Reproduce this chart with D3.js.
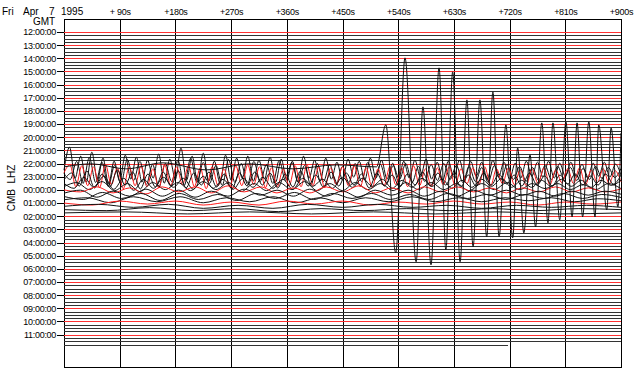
<!DOCTYPE html>
<html>
<head>
<meta charset="utf-8">
<script src="https://cdn.jsdelivr.net/npm/d3@7"></script>
<style>
  body { margin: 0; background: #fff; }
  svg { display: block; font-family: "Liberation Sans", Arial, sans-serif; }
</style>
</head>
<body>
<svg id="chart" width="640" height="371"></svg>
<script>
// hour labels down the left side, one per 4 rows (15 min rows)
const hourLabels = ["12:00:00", "13:00:00", "14:00:00", "15:00:00", "16:00:00", "17:00:00",
  "18:00:00", "19:00:00", "20:00:00", "21:00:00", "22:00:00", "23:00:00",
  "00:00:00", "01:00:00", "02:00:00", "03:00:00", "04:00:00", "05:00:00",
  "06:00:00", "07:00:00", "08:00:00", "09:00:00", "10:00:00", "11:00:00"];
const offsets = [90, 180, 270, 360, 450, 540, 630, 720, 810, 900];
const offsetLabels = ["+ 90s", "+180s", "+270s", "+360s", "+450s", "+540s", "+630s", "+720s", "+810s", "+900s"];
const rowCount = 96;
const rowSeconds = 900;
const lastRowEnd = 717;   // the 11:45 row stops early

// 22:15 row: the big surface waves, [seconds, amplitude]
const w2215 = [[0, 0], [45, 3], [100, -2], [160, 4], [230, -3], [300, 3], [370, -2], [440, 2], [505, 0],
  [520, 42], [536, -86], [551, 109], [569, -95], [580, 60], [593, -98], [606, 99], [617, -83],
  [628, 95], [640, -95], [651, 67], [661, -80], [672, 67], [683, -70], [693, 75], [703, -70],
  [714, 42], [725, -71], [733, 19], [743, -66], [753, 12], [762, -60], [772, 44], [782, -56],
  [790, 44], [801, -53], [811, 45], [821, -50], [829, 44], [838, -50], [848, 45], [858, -50],
  [864, 42], [877, -43], [884, 39], [895, -40], [900, 34]];

// other active rows, amplitudes spread evenly over the row
const w2230 = [0, 23, -8, 14, -12, 18, -10, 12, -14, 9, -11, 15, -9, 13, -12, 10, -8, 16, -13, 11, -9, 22, -10, 14, -12, 17,
  -11, 9, -13, 15, -10, 12, -8, 14, -11, 10, -9, 13, -12, 11, -10, 9, -12, 14, -8, 10, -11, 12, -9, 8, -10, 11, -7, 9, -10,
  12, -8, 10, -9, 7, -11, 9, -8, 10, -7, 11, -9, 8, -10, 9, -7, 10, -8, 9, -6, 8, -9, 10, -7, 8, -9, 7, -8, 9, -6, 8, -7, 9,
  -8, 7, -6, 8, -7, 6, -8, 7, -6, 8, -7, 6, -5];
const w2245 = [0, -6, 12, -10, 16, -9, 11, -13, 8, -10, 14, -7, 12, -11, 9, -14, 10, -8, 13, -12, 15, -9, 11, -10, 8, -12,
  14, -9, 10, -11, 12, -8, 9, -10, 13, -7, 11, -9, 8, -12, 10, -8, 9, -11, 7, -9, 10, -8, 11, -7, 9, -10, 8, -6, 10, -9, 7,
  -8, 9, -7, 10, -6, 8, -9, 7, -8, 6, -9, 8, -7, 9, -6, 7, -8, 6, -7, 8, -6, 7, -5, 6, -7, 5, -6, 7, -5, 6, -4, 5];
const w2300 = [4, 12, -10, 11, -9, 10, -11, 12, -8, 9, -12, 10, -9, 11, -10, 8, -11, 12, -9, 10, -8, 11, -10, 9, -12, 10,
  -9, 8, -10, 11, -9, 12, -8, 10, -11, 9, -10, 8, -9, 11, -10, 12, -9, 10, -11, 9, -8, 10, -9, 11, -10, 9, -11, 8, -9, 10,
  -8, 9, -10, 11, -9, 8, -10, 9, -8, 10, -9, 8, -7, 9, -8, 10, -9, 8, -7, 9, -8, 7, -9, 8, -7, 9, -8, 7, -6, 8, -7, 9, -8,
  7, -6, 8, -7, 6, -5];
const w2315 = [0, 7, -6, 9, -8, 6, -7, 10, -5, 8, -9, 6, -7, 8, -6, 9, -8, 7, -5, 8, -7, 6, -9, 7, -6, 8, -5, 7, -8, 6, -7,
  9, -6, 5, -7, 8, -6, 7, -5, 6, -8, 7, -6, 5, -7, 6, -5, 8, -6, 7, -5, 6, -7, 5, -6, 7, -5, 6, -4, 5, -6, 7, -5, 4, -6, 5,
  -4, 6, -5, 4, -5, 6, -4, 5];
const w2330 = [0, -5, 6, -4, 7, -6, 5, -7, 4, -5, 6, -4, 5, -6, 7, -5, 4, -6, 5, -4, 6, -5, 4, -6, 5, -3, 4, -5, 6, -4, 5,
  -3, 4, -5, 3, -4, 5, -3, 4, -5, 3, -4, 4, -3, 5, -4, 3, -4, 3, -3, 4, -3, 3, -4, 3, -2, 3];
const w2345 = [0, 4, -3, 5, -4, 3, -5, 4, -3, 4, -4, 5, -3, 4, -5, 3, -4, 4, -3, 5, -4, 3, -4, 4, -3, 3, -4, 4, -3, 4, -3,
  3, -4, 3, -3, 4, -3, 3, -2, 3, -3, 2, -3, 3, -2];
const w0000 = [0, -2, 3, -3, 2, -4, 3, -2, 3, -3, 4, -2, 3, -3, 2, -3, 3, -2, 4, -3, 2, -3, 3, -2, 3, -2, 2, -3, 2, -2, 3,
  -2, 2, -2, 1];
const w0015 = [0, 3, -4, 2, -3, 4, -3, 3, -4, 2, -3, 4, -2, 3, -3, 4, -3, 2, -4, 3, -2, 3, -3, 2, -3, 3, -2, 3, -2, 2, -3,
  2, -2, 2, -1];
const w0030 = [0, -3, 4, -2, 3, -4, 3, -3, 2, -4, 3, -2, 4, -3, 3, -2, 3, -3, 2, -3, 3, -2, 2, -3, 2, -2, 3, -2, 2, -1];
const w0045 = [0, 2, -3, 3, -2, 3, -3, 2, -2, 3, -3, 2, -3, 2, -2, 3, -2, 2, -2, 2, -1, 2, -2, 1, -1];
const w0100 = [0, -2, 2, -1, 2, -2, 1, -2, 2, -1, 2, -2, 1, -1, 2, -1, 1, -2, 1, -1, 1];
const w0115 = [0, 2, -1, 2, -2, 1, -2, 2, -1, 2, -1, 1, -2, 1, -1, 1, -1];
const w0130 = [0, -1, 2, -1, 1, -2, 1, -1, 1, -1, 1, -1, 1, 0];
const w0145 = [0, 1, -1, 1, -1, 1, -1, 1, -1, 0];

const activeRows = [
  { row: 42, values: w2230 }, { row: 43, values: w2245 }, { row: 44, values: w2300 },
  { row: 45, values: w2315 }, { row: 46, values: w2330 }, { row: 47, values: w2345 },
  { row: 48, values: w0000 }, { row: 49, values: w0015 }, { row: 50, values: w0030 },
  { row: 51, values: w0045 }, { row: 52, values: w0100 }, { row: 53, values: w0115 },
  { row: 54, values: w0130 }, { row: 55, values: w0145 }
];

const svg = d3.select('#chart');
const frame = { left: 64, right: 621, top: 19, bottom: 367 };

const x = d3.scaleLinear().domain([0, rowSeconds]).range([frame.left, frame.right]);
const y = d3.scaleLinear().domain([0, rowCount - 1]).range([32, 344.5]);
const amp = d3.scaleLinear().domain([0, 100]).range([0, -100]);

const rowColor = r => (r % 4 === 0 ? '#ff1a1a' : '#111');

// frame and the vertical offset lines
const crisp = v => Math.round(v) + 0.5;
svg.append('rect')
  .attr('x', crisp(frame.left)).attr('y', crisp(frame.top))
  .attr('width', Math.round(frame.right) - Math.round(frame.left))
  .attr('height', frame.bottom - frame.top)
  .attr('fill', 'none').attr('stroke', '#000');

svg.append('g').selectAll('line')
  .data(offsets)
  .join('line')
  .attr('x1', d => crisp(x(d))).attr('x2', d => crisp(x(d)))
  .attr('y1', frame.top).attr('y2', frame.bottom)
  .attr('stroke', '#000');

// traces
const line = d3.line().curve(d3.curveMonotoneX);
const traces = svg.append('g').attr('fill', 'none').attr('stroke-width', 1);

const quiet = d3.range(rowCount).filter(r => r !== 41 && !activeRows.some(a => a.row === r));
traces.selectAll('line.quiet')
  .data(quiet)
  .join('line')
  .attr('class', 'quiet')
  .attr('x1', x(0))
  .attr('x2', r => x(r === rowCount - 1 ? lastRowEnd : rowSeconds))
  .attr('y1', r => crisp(y(r))).attr('y2', r => crisp(y(r)))
  .attr('stroke', r => (r % 4 === 0 ? '#ff3030' : '#333'))
  .attr('shape-rendering', 'crispEdges');

activeRows.forEach(a => {
  const n = a.values.length - 1;
  const pts = a.values.map((v, i) => [x(i * rowSeconds / n), y(a.row) + amp(v)]);
  traces.append('path').attr('d', line(pts)).attr('stroke', rowColor(a.row));
});

traces.append('path')
  .attr('d', line(w2215.map(d => [x(d[0]), y(41) + amp(d[1])])))
  .attr('stroke', rowColor(41));

// axes
const yAxis = svg.append('g')
  .attr('transform', `translate(${frame.left},0)`)
  .call(d3.axisLeft(y)
    .tickValues(d3.range(0, rowCount, 4))
    .tickFormat((d, i) => hourLabels[i])
    .tickSize(7).tickPadding(1));
yAxis.select('.domain').remove();
yAxis.selectAll('line').attr('shape-rendering', 'crispEdges');
yAxis.selectAll('text').attr('font-size', 9).attr('letter-spacing', -0.3).attr('fill', '#000');

const xAxis = svg.append('g')
  .attr('transform', `translate(0,${frame.top})`)
  .call(d3.axisTop(x)
    .tickValues(offsets)
    .tickFormat((d, i) => offsetLabels[i])
    .tickSize(0).tickPadding(4));
xAxis.select('.domain').remove();
xAxis.selectAll('text').attr('font-size', 9).attr('letter-spacing', -0.3)
  .attr('fill', '#000').style('white-space', 'pre');

// titles
const title = svg.append('g').attr('font-size', 10).attr('fill', '#000');
title.append('text').attr('x', 2).attr('y', 15).text('Fri');
title.append('text').attr('x', 23).attr('y', 15).text('Apr');
title.append('text').attr('x', 49).attr('y', 15).text('7');
title.append('text').attr('x', 61).attr('y', 15).text('1995');
title.append('text').attr('x', 33).attr('y', 25).text('GMT');
title.append('text')
  .attr('transform', 'translate(15,188) rotate(-90)')
  .attr('text-anchor', 'middle')
  .style('white-space', 'pre')
  .text('CMB  LHZ');
</script>
</body>
</html>
